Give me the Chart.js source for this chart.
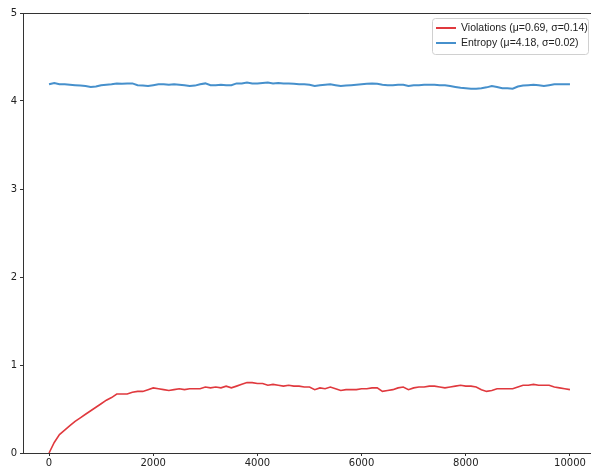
<!DOCTYPE html>
<html>
<head>
<meta charset="utf-8">
<script src="https://cdn.jsdelivr.net/npm/chart.js@4/dist/chart.umd.min.js"></script>
<style>
    html, body { margin: 0; padding: 0; background: #fff; overflow: hidden; }
    #wrap { width: 597px; height: 470px; position: relative; }
</style>
</head>
<body>
<div id="wrap"><canvas id="chart"></canvas></div>
<script>
// Data (sampled every 100 steps)
const steps = [];
for (let i = 0; i <= 100; i++) steps.push(i * 100);

const violations = [
    0.00, 0.12, 0.21, 0.26, 0.31, 0.36, 0.40, 0.44, 0.48, 0.52,
    0.56, 0.60, 0.63, 0.67, 0.67, 0.67, 0.69, 0.70, 0.70, 0.72,
    0.74, 0.73, 0.72, 0.71, 0.72, 0.73, 0.72, 0.73, 0.73, 0.73,
    0.75, 0.74, 0.75, 0.74, 0.76, 0.74, 0.76, 0.78, 0.80, 0.80,
    0.79, 0.79, 0.77, 0.78, 0.77, 0.76, 0.77, 0.76, 0.76, 0.75,
    0.75, 0.72, 0.74, 0.73, 0.75, 0.73, 0.71, 0.72, 0.72, 0.72,
    0.73, 0.73, 0.74, 0.74, 0.70, 0.71, 0.72, 0.74, 0.75, 0.72,
    0.74, 0.75, 0.75, 0.76, 0.76, 0.75, 0.74, 0.75, 0.76, 0.77,
    0.76, 0.76, 0.75, 0.72, 0.70, 0.71, 0.73, 0.73, 0.73, 0.73,
    0.75, 0.77, 0.77, 0.78, 0.77, 0.77, 0.77, 0.75, 0.74, 0.73,
    0.72
];

const entropy = [
    4.190, 4.205, 4.190, 4.190, 4.185, 4.180, 4.175, 4.170, 4.160, 4.165,
    4.180, 4.185, 4.190, 4.200, 4.195, 4.200, 4.200, 4.180, 4.175, 4.170,
    4.180, 4.190, 4.190, 4.185, 4.190, 4.185, 4.180, 4.170, 4.175, 4.190,
    4.200, 4.180, 4.180, 4.185, 4.180, 4.180, 4.200, 4.200, 4.210, 4.200,
    4.200, 4.205, 4.210, 4.200, 4.205, 4.200, 4.200, 4.195, 4.190, 4.190,
    4.185, 4.170, 4.180, 4.185, 4.190, 4.180, 4.170, 4.175, 4.180, 4.185,
    4.190, 4.195, 4.200, 4.195, 4.185, 4.180, 4.180, 4.185, 4.185, 4.170,
    4.180, 4.180, 4.185, 4.185, 4.185, 4.180, 4.180, 4.170, 4.160, 4.150,
    4.145, 4.140, 4.140, 4.145, 4.155, 4.170, 4.160, 4.145, 4.145, 4.140,
    4.165, 4.175, 4.180, 4.185, 4.180, 4.170, 4.180, 4.190, 4.190, 4.190,
    4.190
];

const xTicks = [0, 2000, 4000, 6000, 8000, 10000];
const yTicks = [0, 1, 2, 3, 4, 5];

const labels = ['Violations (μ=0.69, σ=0.14)', 'Entropy (μ=4.18, σ=0.02)'];
const colors = ['#e0393e', '#4690cc'];

const axisColor = '#333';
const tickFont = { family: 'DejaVu Sans', size: 10 };

// Frame line on top + boxed legend in the upper right
const framePlugin = {
    id: 'frame',
    afterDraw(chart) {
        const ctx = chart.ctx;
        const a = chart.chartArea;
        ctx.save();
        ctx.strokeStyle = axisColor;
        ctx.lineWidth = 1;
        ctx.beginPath();
        ctx.moveTo(a.left, a.top + 0.5);
        ctx.lineTo(a.right, a.top + 0.5);
        ctx.stroke();

        // legend
        const bx = 432.5, by = 18.5, bw = 156, bh = 36;
        ctx.fillStyle = 'rgba(255,255,255,0.8)';
        ctx.strokeStyle = '#d0d0d0';
        ctx.beginPath();
        ctx.roundRect(bx, by, bw, bh, 3);
        ctx.fill();
        ctx.stroke();

        ctx.font = '10.5px "Liberation Sans"';
        ctx.textBaseline = 'middle';
        chart.data.datasets.forEach((ds, i) => {
            const y = 28 + i * 15;
            ctx.strokeStyle = ds.borderColor;
            ctx.lineWidth = 2;
            ctx.beginPath();
            ctx.moveTo(436, y);
            ctx.lineTo(456, y);
            ctx.stroke();
            ctx.fillStyle = '#222';
            ctx.fillText(ds.label, 461, y);
        });
        ctx.restore();
    }
};

new Chart(document.getElementById('chart'), {
    type: 'line',
    data: {
        datasets: [
            {
                label: labels[0],
                data: steps.map((s, i) => ({ x: s, y: violations[i] })),
                borderColor: colors[0],
                borderWidth: 1.6,
                pointRadius: 0,
                tension: 0
            },
            {
                label: labels[1],
                data: steps.map((s, i) => ({ x: s, y: entropy[i] })),
                borderColor: colors[1],
                borderWidth: 2,
                pointRadius: 0,
                tension: 0
            }
        ]
    },
    options: {
        responsive: true,
        maintainAspectRatio: false,
        animation: false,
        layout: { padding: { top: 13, right: 1, left: 0, bottom: 0 } },
        plugins: {
            legend: { display: false },
            tooltip: { enabled: false }
        },
        scales: {
            x: {
                type: 'linear',
                min: -500,
                max: 10500,
                afterBuildTicks: axis => { axis.ticks = xTicks.map(v => ({ value: v })); },
                afterFit: axis => { axis.height = 17; },
                grid: { drawOnChartArea: false, drawTicks: true, tickLength: 3, color: axisColor },
                border: { display: true, color: axisColor, width: 1 },
                ticks: {
                    color: '#222', font: tickFont, padding: 1, maxRotation: 0,
                    callback: v => String(v)
                }
            },
            y: {
                min: 0,
                max: 5,
                afterBuildTicks: axis => { axis.ticks = yTicks.map(v => ({ value: v })); },
                afterFit: axis => { axis.width = 23; },
                grid: { drawOnChartArea: false, drawTicks: true, tickLength: 3, color: axisColor },
                border: { display: true, color: axisColor, width: 1 },
                ticks: { color: '#222', font: tickFont, padding: 3, callback: v => String(v) }
            }
        }
    },
    plugins: [framePlugin]
});
</script>
</body>
</html>
